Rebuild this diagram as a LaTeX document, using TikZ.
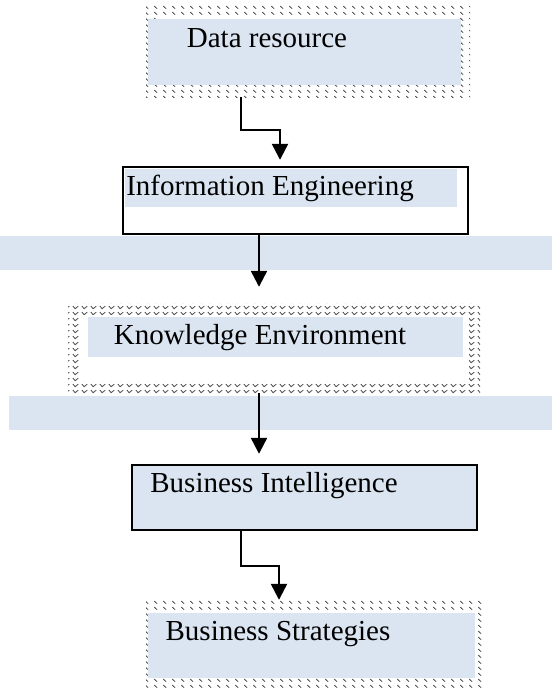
\documentclass[tikz,border=0pt]{standalone}
\usepackage{fontspec}
\setmainfont{Liberation Serif}
\usetikzlibrary{arrows.meta}
\usetikzlibrary{patterns.meta}
\usetikzlibrary{backgrounds}
\definecolor{paleblue}{HTML}{DBE5F1}
\definecolor{hatch}{HTML}{4A4A4A}

% small hatch marks used for the dotted frames
\tikzdeclarepattern{
  name=slashes, type=uncolored,
  bounding box={(0pt,0pt) and (9pt,6pt)}, tile size={(9pt,6pt)},
  code={\draw[line width=0.9pt] (1.5pt,4.5pt) -- (4.5pt,1.5pt);}}
\tikzdeclarepattern{
  name=checks, type=uncolored,
  bounding box={(0pt,0pt) and (9pt,6pt)}, tile size={(9pt,6pt)},
  code={\draw[line width=0.9pt] (1pt,4.5pt) -- (3.5pt,1.5pt) -- (7pt,4.5pt);}}

\tikzset{
  % A frame made of a band of hatch marks
  hatchbox/.style={
    inner sep=0pt,
    path picture={
      \fill[pattern=#1, pattern color=hatch]
        (path picture bounding box.south west) rectangle (path picture bounding box.north east);
      \fill[white]
        ([shift={(11pt,12pt)}]path picture bounding box.south west)
        rectangle ([shift={(-11pt,-12pt)}]path picture bounding box.north east);}},
  % A frame with a solid black outline
  plainbox/.style={draw=black, line width=2.4pt, inner sep=0pt},
  % Box texts
  lbl/.style={font=\fontsize{29}{34}\selectfont, anchor=base, inner sep=0pt},
  % Connectors
  flow/.style={-{Triangle[length=16pt,width=16pt]}, line width=2.4pt, draw=black},
  band/.style={draw=none, fill=paleblue},
}

\begin{document}
\begin{tikzpicture}[x=1pt, y=-1pt]
  \useasboundingbox (0,0) rectangle (552,688);

  % --- Frames ------------------------------------------------------------
  \node[hatchbox=slashes, minimum width=324pt, minimum height=92pt] (dr) at (308,51) {};
  \fill[paleblue] (148,19) rectangle (461,85);

  \node[plainbox, fill=white, minimum width=345pt, minimum height=67pt] (ie) at (295.5,200.5) {};
  \fill[paleblue] (125,169) rectangle (457,207);

  \node[hatchbox=checks, minimum width=412pt, minimum height=90pt] (ke) at (274,348) {};
  \fill[paleblue] (88,317) rectangle (463,357);

  \node[plainbox, fill=paleblue, minimum width=345pt, minimum height=65pt] (bi) at (304.5,497.5) {};

  \node[hatchbox=slashes, minimum width=337pt, minimum height=90pt] (bs) at (314.5,645) {};
  \fill[paleblue] (148,613) rectangle (475,678);

  % --- Texts -------------------------------------------------------------
  \node[lbl] (drtext) at (267,47)  {Data resource};
  \node[lbl] (ietext) at (270,195) {Information Engineering};
  \node[lbl] (ketext) at (260,344) {Knowledge Environment};
  \node[lbl] (bitext) at (274,492) {Business Intelligence};
  \node[lbl] (bstext) at (278,640) {Business Strategies};

  % --- Bands ---------------------------------------------------------------
  \begin{scope}[on background layer]
    \fill[band] (0,236) rectangle (552,270);
    \fill[band] (9,396) rectangle (552,430);
  \end{scope}

  % --- Connectors --------------------------------------------------------
  \draw[flow, shorten >=6pt] ([xshift=-67pt]dr.south) -- ++(0,33) -| ([xshift=-15.5pt]ie.north);
  \draw[flow, shorten >=16pt] ([xshift=-36.5pt]ie.south) -- ([xshift=-36.5pt]ie.south |- ke.north);
  \draw[flow, shorten >=10pt] ([xshift=-15pt]ke.south) -- ([xshift=-15pt]ke.south |- bi.north);
  \draw[flow] ([xshift=-63.5pt]bi.south) -- ++(0,35) -| ([xshift=-35.5pt]bs.north);

\end{tikzpicture}
\end{document}
